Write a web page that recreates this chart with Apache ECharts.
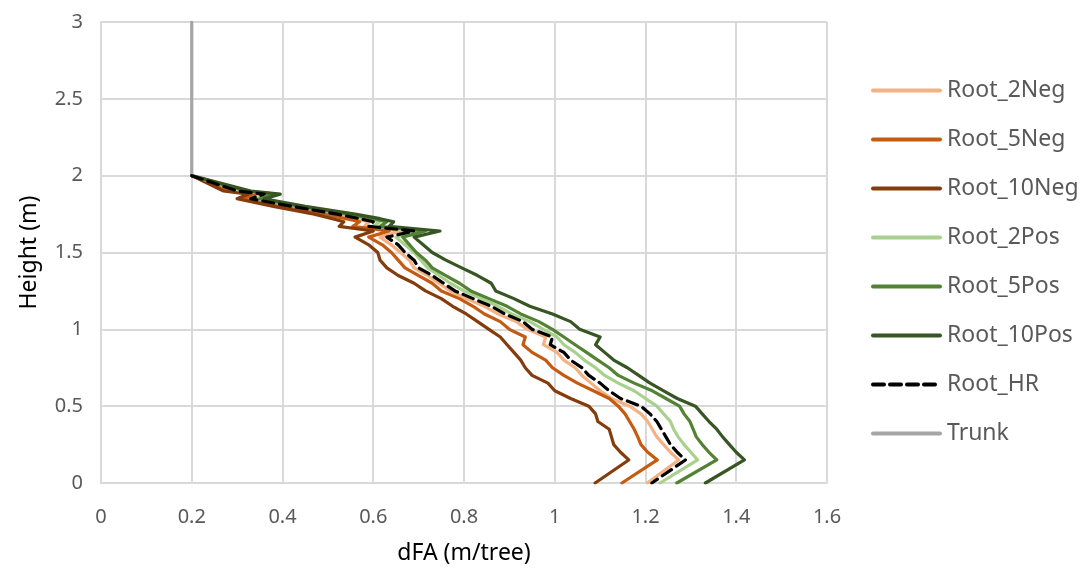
<!DOCTYPE html>
<html>
<head>
<meta charset="utf-8">
<script src="https://cdn.jsdelivr.net/npm/echarts@6/dist/echarts.min.js"></script>
<style>
html,body{margin:0;padding:0;background:#fff;}
#chart{width:1088px;height:570px;}
</style>
</head>
<body>
<div id="chart"></div>
<script>
// Heights (m) shared by the root profiles
var heights = [2.00,1.95,1.90,1.88,1.85,1.80,1.75,1.72,1.70,1.67,1.64,1.60,1.55,1.50,1.45,1.40,1.35,1.30,1.25,1.20,1.15,1.10,1.05,1.00,0.95,0.90,0.85,0.80,0.75,0.70,0.65,0.60,0.55,0.50,0.45,0.40,0.35,0.30,0.25,0.20,0.15,0.00];

// dFA (m/tree) for each series, aligned with heights
var root2Neg  = [0.200,0.245,0.290,0.350,0.320,0.410,0.510,0.560,0.590,0.580,0.660,0.615,0.640,0.660,0.680,0.690,0.720,0.745,0.770,0.805,0.845,0.875,0.915,0.940,0.980,0.975,1.005,1.020,1.045,1.060,1.080,1.100,1.125,1.165,1.190,1.205,1.215,1.225,1.240,1.255,1.273,1.204];
var root5Neg  = [0.200,0.240,0.280,0.340,0.310,0.400,0.490,0.540,0.570,0.555,0.635,0.590,0.620,0.640,0.655,0.670,0.700,0.730,0.750,0.790,0.820,0.845,0.880,0.900,0.935,0.930,0.950,0.980,0.995,1.020,1.050,1.085,1.120,1.140,1.155,1.165,1.175,1.183,1.190,1.205,1.226,1.148];
var root10Neg = [0.200,0.235,0.270,0.325,0.300,0.380,0.470,0.510,0.535,0.525,0.600,0.560,0.590,0.610,0.615,0.630,0.655,0.690,0.715,0.750,0.775,0.805,0.830,0.855,0.880,0.895,0.910,0.925,0.935,0.950,0.985,1.000,1.035,1.075,1.090,1.095,1.120,1.125,1.130,1.145,1.163,1.089];
var root2Pos  = [0.200,0.255,0.310,0.375,0.340,0.430,0.535,0.585,0.615,0.600,0.700,0.650,0.670,0.690,0.705,0.720,0.745,0.770,0.800,0.840,0.875,0.905,0.945,0.975,1.005,1.020,1.045,1.065,1.090,1.110,1.140,1.175,1.200,1.225,1.240,1.255,1.262,1.272,1.285,1.300,1.315,1.232];
var root5Pos  = [0.200,0.260,0.320,0.385,0.350,0.440,0.545,0.600,0.630,0.615,0.715,0.665,0.680,0.695,0.715,0.730,0.760,0.790,0.815,0.855,0.895,0.925,0.965,0.995,1.020,1.045,1.070,1.095,1.120,1.140,1.175,1.215,1.245,1.275,1.285,1.298,1.305,1.312,1.325,1.340,1.357,1.269];
var root10Pos = [0.200,0.265,0.330,0.395,0.360,0.450,0.560,0.615,0.645,0.635,0.747,0.690,0.710,0.730,0.760,0.795,0.830,0.860,0.870,0.910,0.945,0.995,1.035,1.055,1.100,1.090,1.110,1.130,1.160,1.185,1.210,1.240,1.270,1.310,1.325,1.340,1.357,1.370,1.385,1.400,1.418,1.332];
var rootHR    = [0.200,0.250,0.300,0.360,0.330,0.420,0.520,0.570,0.600,0.590,0.690,0.630,0.655,0.670,0.690,0.700,0.730,0.755,0.780,0.820,0.860,0.890,0.930,0.950,0.995,0.990,1.020,1.035,1.060,1.075,1.100,1.120,1.145,1.190,1.210,1.225,1.235,1.245,1.255,1.270,1.288,1.214];
var trunkX = [0.2, 0.2];
var trunkH = [2.0, 3.0];

var seriesNames = ['Root_2Neg','Root_5Neg','Root_10Neg','Root_2Pos','Root_5Pos','Root_10Pos','Root_HR','Trunk'];

function pairs(xs, hs){ var out=[]; for(var i=0;i<xs.length;i++){ out.push([xs[i], hs[i]]); } return out; }

var colors = ['#F4B183','#C55A11','#843C0C','#A9D18E','#548235','#375623','#000000','#A5A5A5'];
var datasets = [
  pairs(root2Neg, heights), pairs(root5Neg, heights), pairs(root10Neg, heights),
  pairs(root2Pos, heights), pairs(root5Pos, heights), pairs(root10Pos, heights),
  pairs(rootHR, heights), pairs(trunkX, trunkH)
];

var font = 'Noto Sans';
var series = seriesNames.map(function(name, i){
  return {
    name: name,
    type: 'line',
    data: datasets[i],
    symbol: 'none',
    smooth: false,
    animation: false,
    z: name === 'Root_HR' ? 5 : 3,
    lineStyle: {
      color: colors[i],
      width: 3.2,
      type: name === 'Root_HR' ? [11, 6] : 'solid',
      cap: 'round',
      join: 'round'
    },
    itemStyle: { color: colors[i] }
  };
});

var chart = echarts.init(document.getElementById('chart'), null, {renderer: 'canvas'});
chart.setOption({
  animation: false,
  backgroundColor: '#ffffff',
  grid: { left: 101, right: 261, top: 22, bottom: 87, containLabel: false },
  xAxis: {
    type: 'value', min: 0, max: 1.6, interval: 0.2,
    name: 'dFA (m/tree)', nameLocation: 'middle', nameGap: 59,
    nameTextStyle: { fontFamily: font, fontSize: 23, color: '#000' },
    axisLine: { show: true, lineStyle: { color: '#D9D9D9', width: 2 } },
    axisTick: { show: false },
    axisLabel: { fontFamily: font, fontSize: 20, color: '#595959', margin: 24,
      formatter: function(v){ return String(Math.round(v*10)/10); } },
    splitLine: { show: true, lineStyle: { color: '#D9D9D9', width: 2 } }
  },
  yAxis: {
    type: 'value', min: 0, max: 3, interval: 0.5,
    name: 'Height (m)', nameLocation: 'middle', nameGap: 60, nameRotate: 90,
    nameTextStyle: { fontFamily: font, fontSize: 23, color: '#000' },
    axisLine: { show: true, lineStyle: { color: '#D9D9D9', width: 2 } },
    axisTick: { show: false },
    axisLabel: { fontFamily: font, fontSize: 20, color: '#595959', margin: 18 },
    splitLine: { show: true, lineStyle: { color: '#D9D9D9', width: 2 } }
  },
  legend: {
    orient: 'vertical',
    left: 866, top: 73,
    itemWidth: 67, itemHeight: 14, itemGap: 24,
    itemStyle: { opacity: 0 },
    lineStyle: { width: 4 },
    textStyle: { fontFamily: font, fontSize: 23, color: '#595959', lineHeight: 25, padding: [0,0,0,2] },
    data: seriesNames
  },
  series: series
});
</script>
</body>
</html>
